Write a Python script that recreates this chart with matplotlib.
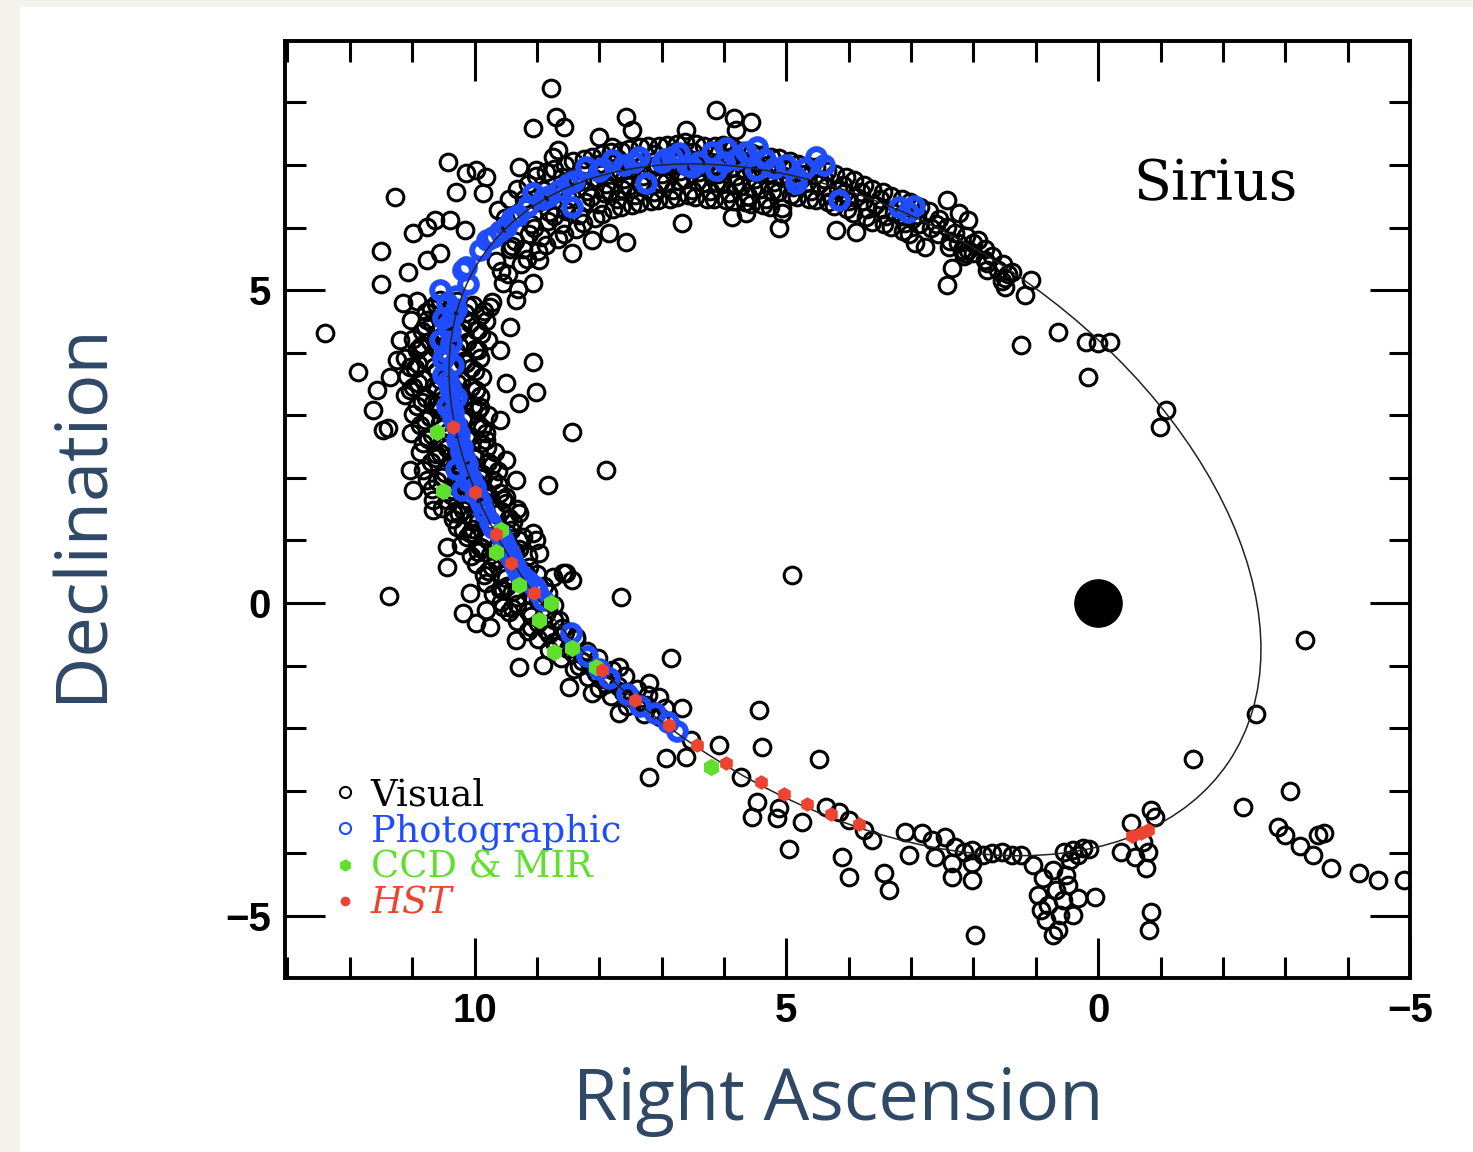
import numpy as np
import matplotlib
matplotlib.use('Agg')
import matplotlib.pyplot as plt
from matplotlib.patches import Ellipse, Rectangle
from matplotlib.lines import Line2D
from matplotlib.ticker import MultipleLocator

# ---- observations, (RA offset, Dec offset) in arcsec, read off the figure ----
# visual: upper arc of the orbit
visual_top = [
    (8.77, 8.23), (9.07, 7.59), (8.69, 7.76), (8.56, 7.60), (7.57, 7.76), (7.47, 7.56),
    (10.43, 7.05), (11.28, 6.49), (10.29, 6.57), (9.97, 6.92), (10.13, 6.87), (9.81, 6.81),
    (9.87, 6.55), (9.28, 6.97), (9.01, 6.92), (8.67, 7.24), (8.75, 7.13), (8.0, 7.45),
    (7.79, 7.29), (6.61, 7.56), (10.99, 5.91), (10.77, 6.01), (10.64, 6.12), (10.4, 6.12),
    (10.16, 5.96), (11.5, 5.62), (11.5, 5.10), (11.07, 5.29), (11.15, 4.79), (10.77, 5.48),
    (10.56, 5.59), (7.57, 5.77), (6.67, 6.07), (8.43, 5.59), (8.11, 5.80), (7.84, 5.91),
    (8.96, 5.48), (9.33, 4.84), (9.07, 5.11),
    (6.13, 7.88), (5.84, 7.75), (5.57, 7.68), (5.81, 7.56), (5.87, 6.17), (5.65, 6.23),
    (5.12, 5.99), (4.21, 5.96), (3.89, 5.93), (5.07, 6.23), (2.93, 5.75), (2.77, 5.69),
    (2.43, 6.44), (2.24, 6.23), (2.08, 6.12), (2.4, 5.69), (2.19, 5.64), (2.43, 5.08),
    (1.92, 5.80), (1.81, 5.48), (2.13, 5.59), (2.35, 5.35), (1.79, 5.32), (1.6, 5.32),
    (1.39, 5.29), (1.49, 5.05), (1.17, 4.92), (1.07, 5.16),
    (0.64, 4.33), (1.23, 4.12), (0.19, 4.17), (0.0, 4.16), (-0.19, 4.17), (0.16, 3.61),
    (-1.09, 3.08), (-0.99, 2.81),
    (9.62, 6.28), (9.58, 5.88), (9.65, 5.47), (9.55, 5.12),
    (9.32, 6.62), (9.28, 6.18), (9.35, 5.79), (9.25, 5.41), (9.3, 5.02),
    (9.02, 6.82), (8.97, 6.41), (9.04, 6.0), (8.98, 5.62),
    (8.72, 6.93), (8.68, 6.56), (8.73, 6.18), (8.66, 5.82),
    (8.42, 7.06), (8.38, 6.71), (8.43, 6.33), (8.37, 5.98),
    (8.12, 7.12), (8.08, 6.79), (8.13, 6.48), (8.07, 6.16),
    (7.82, 7.21), (7.77, 6.88), (7.83, 6.58), (7.78, 6.29),
    (7.52, 7.26), (7.48, 6.94), (7.53, 6.66), (7.47, 6.36),
    (7.22, 7.31), (7.18, 6.99), (7.23, 6.71), (7.17, 6.42),
    (6.92, 7.32), (6.88, 7.01), (6.93, 6.72), (6.87, 6.46),
    (6.62, 7.36), (6.58, 7.04), (6.63, 6.77), (6.57, 6.52),
    (6.32, 7.31), (6.28, 7.02), (6.33, 6.71), (6.27, 6.46),
    (6.02, 7.32), (5.98, 6.99), (6.03, 6.72), (5.97, 6.44),
    (5.72, 7.22), (5.68, 6.94), (5.73, 6.66), (5.67, 6.41),
    (5.42, 7.16), (5.38, 6.91), (5.43, 6.61), (5.37, 6.36),
    (5.12, 7.11), (5.08, 6.84), (5.13, 6.56), (5.07, 6.31),
    (4.82, 7.01), (4.78, 6.76), (4.83, 6.49),
    (4.52, 6.96), (4.48, 6.69), (4.53, 6.44),
    (4.22, 6.86), (4.18, 6.61), (4.23, 6.34),
    (3.92, 6.76), (3.88, 6.49), (3.93, 6.24),
    (3.62, 6.61), (3.58, 6.36), (3.63, 6.09),
    (3.32, 6.51), (3.28, 6.24), (3.33, 6.01),
    (3.02, 6.41), (2.98, 6.14), (3.03, 5.89),
    (2.72, 6.26), (2.68, 5.99), (2.42, 6.01), (2.38, 5.79),
    (2.12, 5.86), (2.08, 5.64), (1.82, 5.66), (1.78, 5.44), (1.52, 5.41),
    (9.45, 6.45), (9.47, 6.05), (9.43, 5.65), (9.46, 5.25),
    (9.15, 6.7), (9.17, 6.3), (9.13, 5.9), (9.16, 5.5),
    (8.85, 6.88), (8.87, 6.48), (8.83, 6.1), (8.86, 5.72),
    (8.55, 7.0), (8.57, 6.63), (8.53, 6.27), (8.56, 5.9),
    (8.25, 7.1), (8.27, 6.75), (8.23, 6.4), (8.26, 6.07),
    (7.95, 7.17), (7.97, 6.85), (7.93, 6.55), (7.96, 6.22),
    (7.65, 7.23), (7.67, 6.92), (7.63, 6.62), (7.66, 6.32),
    (7.35, 7.28), (7.37, 6.97), (7.33, 6.68), (7.36, 6.39),
    (7.05, 7.31), (7.07, 7.0), (7.03, 6.72), (7.06, 6.44),
    (6.75, 7.34), (6.77, 7.03), (6.73, 6.75), (6.76, 6.48),
    (6.45, 7.33), (6.47, 7.03), (6.43, 6.74), (6.46, 6.49),
    (6.15, 7.31), (6.17, 7.0), (6.13, 6.72), (6.16, 6.45),
    (5.85, 7.27), (5.87, 6.97), (5.83, 6.69), (5.86, 6.42),
    (5.55, 7.19), (5.57, 6.92), (5.53, 6.63), (5.56, 6.38),
    (5.25, 7.13), (5.27, 6.87), (5.23, 6.58), (5.26, 6.33),
    (4.95, 7.06), (4.97, 6.8), (4.93, 6.52),
    (4.65, 6.98), (4.67, 6.72), (4.63, 6.46),
    (4.35, 6.9), (4.37, 6.65), (4.33, 6.4),
    (4.05, 6.8), (4.07, 6.55), (4.03, 6.3),
    (3.75, 6.68), (3.77, 6.42), (3.73, 6.17),
    (3.45, 6.56), (3.47, 6.3), (3.43, 6.05),
    (3.15, 6.46), (3.17, 6.19), (3.13, 5.95),
    (2.85, 6.33), (2.87, 6.06), (2.55, 6.13), (2.57, 5.9),
    (9.52, 6.15), (9.4, 5.7), (9.58, 5.3), (9.2, 6.45), (9.1, 6.05), (9.22, 5.65),
    (8.9, 6.6), (8.8, 6.25), (8.93, 5.85), (8.6, 6.8), (8.5, 6.45), (8.62, 6.05),
    (8.3, 6.92), (8.2, 6.58), (8.32, 6.2), (8.0, 7.02), (7.9, 6.7), (8.02, 6.38),
    (7.7, 7.1), (7.6, 6.77), (7.72, 6.45), (7.4, 7.15), (7.3, 6.83), (7.42, 6.52),
    (7.1, 7.18), (7.0, 6.85), (7.12, 6.56), (6.8, 7.2), (6.7, 6.9), (6.82, 6.6),
    (6.5, 7.2), (6.4, 6.88), (6.52, 6.6), (6.2, 7.18), (6.1, 6.86), (6.22, 6.58),
    (5.9, 7.12), (5.8, 6.82), (5.92, 6.55), (5.6, 7.06), (5.5, 6.77), (5.62, 6.5),
    (5.3, 7.0), (5.2, 6.72), (5.32, 6.45), (5.0, 6.93), (4.9, 6.64), (4.7, 6.86),
    (4.6, 6.58), (4.4, 6.78), (4.3, 6.52), (4.1, 6.68), (4.0, 6.42), (3.8, 6.56),
    (3.7, 6.3), (3.5, 6.45), (3.4, 6.18), (3.2, 6.35), (3.1, 6.08), (2.9, 6.2),
    (2.6, 6.05), (2.3, 5.92), (2.0, 5.75), (1.7, 5.55),
    (2.25, 5.75), (2.15, 5.55), (2.0, 5.6), (1.5, 5.2), (1.45, 5.25), (1.55, 5.15),
]

# visual: western (left) side of the orbit
visual_left = [
    (12.4, 4.31), (11.87, 3.69), (11.57, 3.40), (11.63, 3.08), (11.47, 2.77), (11.39, 2.80),
    (11.04, 2.13), (10.99, 1.81), (11.2, 4.20), (11.25, 3.88), (11.36, 3.61), (11.04, 3.40),
    (9.44, 4.41), (9.6, 4.04), (9.07, 3.85), (9.49, 3.52), (9.01, 3.37), (9.28, 3.20),
    (9.6, 2.93), (8.43, 2.73), (7.89, 2.13), (8.83, 1.89), (9.33, 1.97), (9.49, 2.29),
    (9.81, 2.61), (9.92, 3.13), (10.13, 3.84), (9.97, 4.36), (9.76, 4.73), (10.56, 4.84),
    (10.77, 4.52), (10.88, 4.09), (11.04, 3.77), (10.56, 3.56), (10.67, 3.20), (10.77, 2.65),
    (10.56, 2.40), (10.24, 2.17), (10.77, 1.97), (10.67, 1.49), (10.45, 0.90), (10.45, 0.58),
    (10.03, 1.12), (9.81, 1.44), (9.28, 1.44), (9.07, 1.12), (8.96, 0.80), (9.17, 0.48),
    (8.53, 0.48), (9.49, 1.70), (9.81, 1.70),
    (10.19, -0.16), (9.97, -0.32), (9.76, -0.38), (9.81, -0.11), (10.08, 0.16), (9.33, -0.59),
    (8.91, -0.99), (8.48, -1.34), (8.11, -1.43), (7.68, -1.75), (7.68, -1.02), (8.43, 0.37),
    (9.01, 1.01), (9.17, 0.37), (8.75, 0.42), (8.59, 0.48), (7.65, 0.10), (6.85, -0.88),
    (7.2, -1.27), (7.04, -1.50), (6.67, -1.67), (5.44, -1.71), (5.39, -2.30), (6.08, -2.26),
    (6.93, -2.47), (6.61, -2.46), (7.2, -2.78), (9.55, 0.21), (9.55, -0.06), (8.64, -0.27),
    (8.37, -0.54), (9.28, -1.02), (10.35, 1.81), (10.67, 1.65), (10.35, 1.44), (10.19, 1.17),
    (9.92, 0.90), (9.65, 0.69), (9.28, 1.01), (9.6, 1.76),
    (11.38, 0.11), (4.91, 0.45),
    (10.92, 4.82), (10.62, 4.78), (10.28, 4.83), (10.02, 4.77), (9.72, 4.81),
    (11.02, 4.52), (10.68, 4.48), (10.42, 4.53), (10.08, 4.47), (9.82, 4.51),
    (10.98, 4.22), (10.72, 4.18), (10.38, 4.23), (10.12, 4.17), (9.78, 4.21),
    (11.12, 3.92), (10.78, 3.88), (10.52, 3.93), (10.18, 3.87), (9.92, 3.91),
    (11.08, 3.62), (10.82, 3.58), (10.48, 3.63), (10.22, 3.57), (9.88, 3.61),
    (11.12, 3.32), (10.78, 3.28), (10.52, 3.33), (10.18, 3.27), (9.92, 3.31),
    (10.98, 3.02), (10.72, 2.98), (10.38, 3.03), (10.12, 2.97), (9.78, 3.01),
    (11.02, 2.72), (10.68, 2.68), (10.42, 2.73), (10.08, 2.67), (9.82, 2.71),
    (10.88, 2.42), (10.62, 2.38), (10.28, 2.43), (10.02, 2.37), (9.68, 2.41),
    (10.82, 2.12), (10.48, 2.08), (10.22, 2.13), (9.88, 2.07), (9.62, 2.11),
    (10.68, 1.82), (10.42, 1.78), (10.08, 1.83), (9.82, 1.77),
    (10.52, 1.52), (10.18, 1.48), (9.92, 1.53), (9.58, 1.47), (9.32, 1.51),
    (10.28, 1.22), (10.02, 1.18), (9.68, 1.23), (9.42, 1.17),
    (10.22, 0.92), (9.88, 0.88), (9.62, 0.93), (9.28, 0.87),
    (9.98, 0.62), (9.72, 0.58), (9.38, 0.63), (9.12, 0.57),
    (9.82, 0.32), (9.48, 0.28), (9.22, 0.33), (8.88, 0.27),
    (9.58, 0.02), (9.32, -0.02), (8.98, 0.03), (8.72, -0.03),
    (9.32, -0.28), (8.98, -0.32), (8.72, -0.27),
    (8.98, -0.58), (8.72, -0.62), (8.38, -0.57),
    (8.62, -0.88), (8.28, -0.92), (8.02, -0.87),
    (8.18, -1.18), (7.92, -1.22), (7.58, -1.17),
    (7.82, -1.48), (7.48, -1.52), (7.22, -1.47),
    (7.28, -1.78), (7.02, -1.82),
    (10.78, 4.65), (10.45, 4.67), (10.15, 4.63), (9.85, 4.66),
    (10.85, 4.35), (10.55, 4.37), (10.25, 4.33), (9.95, 4.36),
    (10.92, 4.05), (10.62, 4.07), (10.3, 4.03), (10.0, 4.06),
    (10.95, 3.75), (10.65, 3.77), (10.35, 3.73), (10.05, 3.76),
    (10.98, 3.45), (10.65, 3.47), (10.35, 3.43), (10.05, 3.46),
    (10.92, 3.15), (10.62, 3.17), (10.32, 3.13), (10.02, 3.16),
    (10.88, 2.85), (10.55, 2.87), (10.25, 2.83), (9.95, 2.86),
    (10.82, 2.55), (10.52, 2.57), (10.2, 2.53), (9.9, 2.56),
    (10.7, 2.25), (10.38, 2.27), (10.08, 2.23), (9.78, 2.26),
    (10.6, 1.95), (10.3, 1.97), (9.98, 1.93), (9.7, 1.96),
    (10.45, 1.65), (10.15, 1.67), (9.85, 1.63), (9.55, 1.66),
    (10.35, 1.35), (10.05, 1.37), (9.75, 1.33), (9.45, 1.36),
    (10.12, 1.05), (9.82, 1.07), (9.52, 1.03), (9.22, 1.06),
    (10.05, 0.75), (9.75, 0.77), (9.45, 0.73), (9.15, 0.76),
    (9.85, 0.45), (9.58, 0.47), (9.28, 0.43), (9.0, 0.46),
    (9.7, 0.15), (9.4, 0.17), (9.1, 0.13), (8.82, 0.16),
    (9.45, -0.15), (9.15, -0.13), (8.85, -0.17),
    (9.15, -0.45), (8.85, -0.43), (8.55, -0.47),
    (8.8, -0.75), (8.5, -0.73), (8.2, -0.77),
    (8.4, -1.05), (8.1, -1.03), (7.8, -1.07),
    (8.0, -1.35), (7.7, -1.33), (7.4, -1.37),
    (7.55, -1.65), (7.25, -1.63), (6.95, -1.67),
    (10.7, 4.72), (10.4, 4.7), (10.1, 4.74), (9.9, 4.6), (10.8, 4.42), (10.5, 4.25),
    (10.2, 4.4), (9.9, 4.3), (10.85, 4.12), (10.55, 4.0), (10.25, 4.1), (9.95, 4.05),
    (10.9, 3.82), (10.6, 3.7), (10.3, 3.82), (10.0, 3.7), (10.9, 3.52), (10.6, 3.4),
    (10.28, 3.52), (9.98, 3.4), (10.85, 3.22), (10.55, 3.08), (10.25, 3.22), (9.95, 3.08),
    (10.8, 2.92), (10.5, 2.8), (10.18, 2.92), (9.88, 2.8), (10.75, 2.62), (10.45, 2.48),
    (10.12, 2.62), (9.8, 2.5), (10.62, 2.32), (10.32, 2.2), (10.0, 2.32), (9.72, 2.2),
    (10.52, 2.02), (10.22, 1.9), (9.92, 2.0), (9.62, 1.9), (10.38, 1.72), (10.08, 1.6),
    (9.78, 1.72), (9.5, 1.6), (10.25, 1.42), (9.95, 1.3), (9.65, 1.42), (9.38, 1.3),
    (10.08, 1.12), (9.78, 1.0), (9.48, 1.12), (9.95, 0.82), (9.65, 0.7), (9.35, 0.82),
    (9.78, 0.52), (9.5, 0.4), (9.2, 0.52), (9.6, 0.22), (9.32, 0.1), (9.05, 0.22),
    (9.4, -0.08), (9.1, -0.2), (8.82, -0.1), (9.1, -0.38), (8.8, -0.5), (8.6, -0.4),
    (8.7, -0.68), (8.42, -0.8), (8.32, -1.0), (8.05, -1.12), (7.9, -1.3), (7.62, -1.42),
    (7.4, -1.6), (7.15, -1.72),
]

# visual: southern arc and the eastern tail
visual_bottom = [
    (4.48, -2.49), (4.96, -3.93), (4.11, -4.06), (4.0, -4.38), (3.44, -4.31), (3.36, -4.58),
    (5.55, -3.42), (5.15, -3.43), (4.75, -3.50), (5.47, -3.18), (5.12, -3.27), (5.73, -2.78),
    (6.53, -2.19), (1.97, -5.30), (4.37, -3.26), (4.16, -3.34), (4.0, -3.47), (3.76, -3.63),
    (3.63, -3.79), (3.09, -3.66), (2.83, -3.67), (2.67, -3.79), (2.45, -3.74), (2.29, -3.90),
    (3.04, -4.03), (2.61, -4.06), (2.35, -4.15), (2.03, -3.95), (2.03, -4.15), (1.71, -3.99),
    (1.39, -4.03), (1.23, -4.03), (2.35, -4.38), (2.03, -4.42), (0.4, -3.95), (0.32, -4.03),
    (0.24, -3.91), (1.55, -3.98), (1.85, -4.02), (2.15, -3.98), (0.55, -3.97), (0.15, -3.93),
    (1.04, -4.19), (0.88, -4.39), (0.96, -4.66), (0.8, -4.82), (0.67, -4.58), (0.56, -4.74),
    (0.48, -4.50), (0.83, -5.06), (0.64, -5.22), (0.4, -4.98), (0.32, -4.71), (0.72, -4.27),
    (0.51, -4.35), (0.45, -4.11), (0.91, -4.90), (0.61, -4.98), (0.72, -5.30), (0.05, -4.70),
    (-0.85, -3.31), (-0.91, -3.42), (-0.37, -3.98), (-0.59, -4.06), (-0.8, -3.98), (-0.77, -4.23),
    (-0.53, -3.51), (-0.72, -3.82), (-0.85, -4.94), (-0.82, -5.22),
    (-3.31, -0.59), (-2.53, -1.77), (-1.52, -2.49), (-2.32, -3.26), (-3.07, -3.00), (-2.88, -3.58),
    (-2.99, -3.71), (-3.23, -3.88), (-3.44, -4.03), (-3.52, -3.71), (-3.62, -3.67), (-3.73, -4.23),
    (-4.19, -4.31), (-4.48, -4.42), (-4.91, -4.42),
]

photographic = [
    (10.19, 5.32), (9.92, 5.64), (9.49, 6.01), (9.07, 6.55), (8.21, 6.97), (7.79, 7.08),
    (7.36, 7.13), (7.25, 6.71), (6.72, 7.19), (6.83, 7.12), (6.51, 6.96), (5.97, 7.27),
    (5.47, 7.28), (6.13, 6.92), (5.49, 6.92), (4.85, 6.80), (4.53, 7.13), (4.85, 6.71),
    (3.2, 6.33), (4.16, 6.44), (8.43, 6.33), (10.13, 5.37),
    (10.3, 4.7), (10.1, 5.1), (9.8, 5.8), (9.6, 5.95), (9.3, 6.2), (8.8, 6.5), (8.5, 6.7),
    (8.0, 6.9), (7.6, 7.0), (7.0, 7.05), (6.4, 7.05), (6.2, 7.2), (5.8, 7.1), (5.2, 6.95),
    (5.0, 7.0), (3.05, 6.25), (2.95, 6.35),
    (9.7, 5.85), (9.4, 6.15), (9.15, 6.35), (8.9, 6.45), (8.65, 6.6), (8.4, 6.75),
    (7.95, 6.95), (7.45, 7.05), (6.95, 7.1), (6.6, 7.0), (6.0, 7.05), (5.65, 7.2),
    (5.35, 7.1), (4.7, 6.95), (4.4, 7.0),
    (10.55, 5.0), (10.45, 4.8), (10.5, 4.55), (10.4, 4.35), (10.55, 4.2), (10.45, 4.0),
    (10.35, 3.8), (10.5, 3.65), (10.4, 3.45), (10.3, 3.3), (10.45, 3.15), (10.35, 2.95),
    (10.25, 2.7), (10.2, 2.5), (10.15, 2.3), (10.3, 2.15), (10.05, 2.0), (10.2, 1.8),
    (9.95, 1.7), (9.85, 1.45), (9.75, 1.3), (9.6, 1.1), (9.5, 0.9), (9.4, 0.7),
    (9.3, 0.5), (9.15, 0.35), (9.0, 0.2), (8.9, 0.05), (8.45, -0.48), (8.2, -0.85),
    (8.0, -1.05), (7.85, -1.2), (7.55, -1.45), (7.35, -1.65), (7.1, -1.75), (6.9, -1.9),
    (6.75, -2.05),
    (10.3, 4.9), (10.35, 4.6), (10.42, 4.45), (10.38, 4.15), (10.5, 3.9), (10.42, 3.55),
    (10.38, 3.35), (10.35, 3.05), (10.3, 2.85), (10.28, 2.6), (10.22, 2.42), (10.12, 2.2),
    (10.1, 1.95), (10.0, 1.85), (9.9, 1.6), (9.7, 1.2), (9.55, 1.0), (9.45, 0.8),
    (9.35, 0.6), (9.22, 0.42), (9.05, 0.28),
]

ccd_mir = [
    (10.61, 2.73), (10.51, 1.79), (9.57, 1.17), (9.65, 0.81), (9.28, 0.29), (8.77, 0.0),
    (8.96, -0.27), (8.72, -0.78), (8.43, -0.72), (8.05, -1.02), (6.21, -2.62),
]

hst = [
    (10.34, 2.81), (10.0, 1.77), (9.66, 1.10), (9.41, 0.64), (9.04, 0.16), (7.95, -1.07),
    (7.42, -1.55), (6.88, -1.95), (6.43, -2.27), (5.97, -2.56), (5.41, -2.86), (5.04, -3.05),
    (4.67, -3.21), (4.29, -3.37), (3.84, -3.53), (-0.55, -3.72), (-0.68, -3.67), (-0.8, -3.62),
]

# Sirius A sits at the origin
primary_ra = [0.0]
primary_dec = [0.0]

# apparent orbit (ellipse)
orbit_center = (3.9, 1.49)
orbit_width = 14.44
orbit_height = 9.12
orbit_angle = 33.9

col_blue = '#1f4cff'
col_green = '#5fe02c'
col_red = '#ec4430'

plt.rcParams['font.family'] = 'Liberation Sans'
plt.rcParams['font.weight'] = 'bold'

fig = plt.figure(figsize=(14.73, 11.52), dpi=100, facecolor='#f4f2ed')
# white slide panel
fig.patches.append(Rectangle((20 / 1473, 0), 1, 1 - 7 / 1152, transform=fig.transFigure,
                             facecolor='white', edgecolor='none', zorder=-1))
ax = fig.add_axes([285 / 1473, 1 - 978 / 1152, 1125 / 1473, 937 / 1152])

vis = np.array(visual_top + visual_left + visual_bottom)
pho = np.array(photographic)
ccd = np.array(ccd_mir)
hs = np.array(hst)

ax.plot(vis[:, 0], vis[:, 1], 'o', ms=12, mfc='none', mec='black', mew=2.2, zorder=2)
ax.plot(pho[:, 0], pho[:, 1], 'o', ms=12, mfc='none', mec=col_blue, mew=4.3, zorder=3)
ax.add_patch(Ellipse(orbit_center, orbit_width, orbit_height, angle=orbit_angle,
                     fill=False, ec='#222222', lw=1.1, zorder=4))
ax.plot(ccd[:, 0], ccd[:, 1], 'h', ms=12.5, color=col_green, mec='none', zorder=5)
ax.plot(hs[:, 0], hs[:, 1], 'h', ms=10.5, color=col_red, mec='none', zorder=6)
ax.plot(primary_ra, primary_dec, 'o', ms=34, color='black', zorder=7)

ax.set_xlim(13.04, -5.0)
ax.set_ylim(-5.99, 8.98)
ax.xaxis.set_major_locator(MultipleLocator(5))
ax.xaxis.set_minor_locator(MultipleLocator(1))
ax.yaxis.set_major_locator(MultipleLocator(5))
ax.yaxis.set_minor_locator(MultipleLocator(1))
ax.tick_params(which='both', direction='in', top=True, right=True, width=2.2,
               labelsize=29, pad=10)
ax.tick_params(which='major', length=29)
ax.tick_params(which='minor', length=15)
for sp in ax.spines.values():
    sp.set_linewidth(2.8)

ax.text(-0.56, 6.44, 'Sirius', family='DejaVu Serif', weight='normal', size=40,
        ha='left', va='baseline')

handles = [
    Line2D([], [], ls='none', marker='o', ms=8, mfc='none', mec='black', mew=1.5),
    Line2D([], [], ls='none', marker='o', ms=8, mfc='none', mec=col_blue, mew=1.5),
    Line2D([], [], ls='none', marker='h', ms=9, color=col_green, mec='none'),
    Line2D([], [], ls='none', marker='o', ms=7, color=col_red, mec='none'),
]
labels = ['Visual', 'Photographic', 'CCD & MIR', 'HST']
leg = ax.legend(handles, labels, loc='lower left', bbox_to_anchor=(0.045, 0.06),
                frameon=False, prop={'family': 'DejaVu Serif', 'size': 26.5, 'weight': 'normal'},
                handlelength=0.5, handletextpad=0.45, labelspacing=0.0,
                borderpad=0, borderaxespad=0)
for t, c in zip(leg.get_texts(), ['black', col_blue, col_green, col_red]):
    t.set_color(c)
leg.get_texts()[3].set_style('italic')

lab_col = '#2f4866'
fig.text(838 / 1473, 1 - 1120 / 1152, 'Right Ascension', family='Open Sans', weight='normal',
         size=52, color=lab_col, ha='center', va='baseline')
fig.text(83 / 1473, 1 - 512 / 1152, 'Declination', family='Open Sans', weight='normal',
         size=52, color=lab_col, ha='center', va='center', rotation=90)

fig.savefig('out.png', dpi=100, facecolor=fig.get_facecolor())
